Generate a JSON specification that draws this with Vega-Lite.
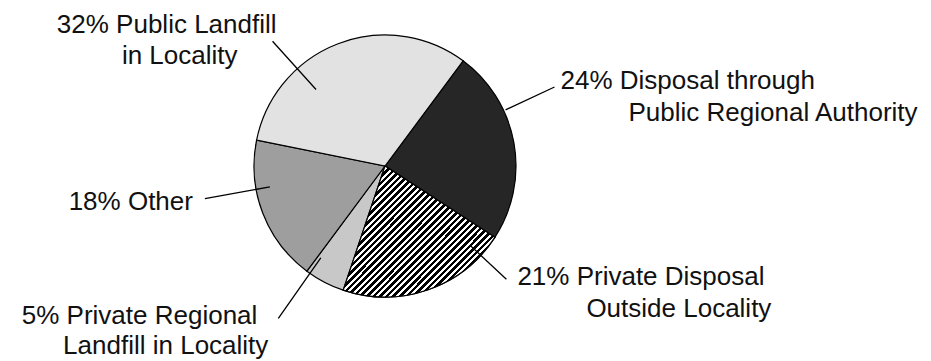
{
  "$schema": "https://vega.github.io/schema/vega-lite/v6.json",
  "width": 770,
  "height": 332,
  "autosize": "none",
  "padding": {"left": 0, "top": 0, "right": 161, "bottom": 29},
  "background": "white",
  "config": {"view": {"stroke": null}},
  "data": {"values": [
    {"cat": "Disposal through Public Regional Authority", "value": 24, "order": 1, "line1": "24% Disposal through", "line2": "Public Regional Authority"},
    {"cat": "Private Disposal Outside Locality", "value": 21, "order": 2, "line1": "21% Private Disposal", "line2": "Outside Locality"},
    {"cat": "Private Regional Landfill in Locality", "value": 5, "order": 3, "line1": "5% Private Regional", "line2": "Landfill in Locality"},
    {"cat": "Other", "value": 18, "order": 4, "line1": "18% Other", "line2": ""},
    {"cat": "Public Landfill in Locality", "value": 32, "order": 5, "line1": "32% Public Landfill", "line2": "in Locality"}
  ]},
  "encoding": {
    "theta": {"field": "value", "type": "quantitative", "stack": true, "scale": {"range": [0.6388, 6.922]}},
    "order": {"field": "order", "type": "quantitative"}
  },
  "layer": [
    {
      "mark": {"type": "arc", "radius": 131, "stroke": "#000", "strokeWidth": 1.2},
      "encoding": {
        "color": {"field": "cat", "type": "nominal", "legend": null,
          "scale": {"domain": ["Disposal through Public Regional Authority", "Private Disposal Outside Locality", "Private Regional Landfill in Locality", "Other", "Public Landfill in Locality"],
                    "range": ["#262626", "#666666", "#c8c8c8", "#9e9e9e", "#e2e2e2"]}}
      }
    },
    {
      "mark": {"type": "arc", "radius": 131, "stroke": "#000", "strokeWidth": 1.2,
        "fill": {"gradient": "linear", "x1": 0, "y1": 0, "x2": 1, "y2": 0.86, "stops": [
          {"offset": 0, "color": "#000"}, {"offset": 0.01375, "color": "#000"}, {"offset": 0.01375, "color": "#fff"}, {"offset": 0.025, "color": "#fff"},
          {"offset": 0.025, "color": "#000"}, {"offset": 0.03875, "color": "#000"}, {"offset": 0.03875, "color": "#fff"}, {"offset": 0.05, "color": "#fff"},
          {"offset": 0.05, "color": "#000"}, {"offset": 0.06375, "color": "#000"}, {"offset": 0.06375, "color": "#fff"}, {"offset": 0.075, "color": "#fff"},
          {"offset": 0.075, "color": "#000"}, {"offset": 0.08875, "color": "#000"}, {"offset": 0.08875, "color": "#fff"}, {"offset": 0.1, "color": "#fff"},
          {"offset": 0.1, "color": "#000"}, {"offset": 0.11375, "color": "#000"}, {"offset": 0.11375, "color": "#fff"}, {"offset": 0.125, "color": "#fff"},
          {"offset": 0.125, "color": "#000"}, {"offset": 0.13875, "color": "#000"}, {"offset": 0.13875, "color": "#fff"}, {"offset": 0.15, "color": "#fff"},
          {"offset": 0.15, "color": "#000"}, {"offset": 0.16375, "color": "#000"}, {"offset": 0.16375, "color": "#fff"}, {"offset": 0.175, "color": "#fff"},
          {"offset": 0.175, "color": "#000"}, {"offset": 0.18875, "color": "#000"}, {"offset": 0.18875, "color": "#fff"}, {"offset": 0.2, "color": "#fff"},
          {"offset": 0.2, "color": "#000"}, {"offset": 0.21375, "color": "#000"}, {"offset": 0.21375, "color": "#fff"}, {"offset": 0.225, "color": "#fff"},
          {"offset": 0.225, "color": "#000"}, {"offset": 0.23875, "color": "#000"}, {"offset": 0.23875, "color": "#fff"}, {"offset": 0.25, "color": "#fff"},
          {"offset": 0.25, "color": "#000"}, {"offset": 0.26375, "color": "#000"}, {"offset": 0.26375, "color": "#fff"}, {"offset": 0.275, "color": "#fff"},
          {"offset": 0.275, "color": "#000"}, {"offset": 0.28875, "color": "#000"}, {"offset": 0.28875, "color": "#fff"}, {"offset": 0.3, "color": "#fff"},
          {"offset": 0.3, "color": "#000"}, {"offset": 0.31375, "color": "#000"}, {"offset": 0.31375, "color": "#fff"}, {"offset": 0.325, "color": "#fff"},
          {"offset": 0.325, "color": "#000"}, {"offset": 0.33875, "color": "#000"}, {"offset": 0.33875, "color": "#fff"}, {"offset": 0.35, "color": "#fff"},
          {"offset": 0.35, "color": "#000"}, {"offset": 0.36375, "color": "#000"}, {"offset": 0.36375, "color": "#fff"}, {"offset": 0.375, "color": "#fff"},
          {"offset": 0.375, "color": "#000"}, {"offset": 0.38875, "color": "#000"}, {"offset": 0.38875, "color": "#fff"}, {"offset": 0.4, "color": "#fff"},
          {"offset": 0.4, "color": "#000"}, {"offset": 0.41375, "color": "#000"}, {"offset": 0.41375, "color": "#fff"}, {"offset": 0.425, "color": "#fff"},
          {"offset": 0.425, "color": "#000"}, {"offset": 0.43875, "color": "#000"}, {"offset": 0.43875, "color": "#fff"}, {"offset": 0.45, "color": "#fff"},
          {"offset": 0.45, "color": "#000"}, {"offset": 0.46375, "color": "#000"}, {"offset": 0.46375, "color": "#fff"}, {"offset": 0.475, "color": "#fff"},
          {"offset": 0.475, "color": "#000"}, {"offset": 0.48875, "color": "#000"}, {"offset": 0.48875, "color": "#fff"}, {"offset": 0.5, "color": "#fff"},
          {"offset": 0.5, "color": "#000"}, {"offset": 0.51375, "color": "#000"}, {"offset": 0.51375, "color": "#fff"}, {"offset": 0.525, "color": "#fff"},
          {"offset": 0.525, "color": "#000"}, {"offset": 0.53875, "color": "#000"}, {"offset": 0.53875, "color": "#fff"}, {"offset": 0.55, "color": "#fff"},
          {"offset": 0.55, "color": "#000"}, {"offset": 0.56375, "color": "#000"}, {"offset": 0.56375, "color": "#fff"}, {"offset": 0.575, "color": "#fff"},
          {"offset": 0.575, "color": "#000"}, {"offset": 0.58875, "color": "#000"}, {"offset": 0.58875, "color": "#fff"}, {"offset": 0.6, "color": "#fff"},
          {"offset": 0.6, "color": "#000"}, {"offset": 0.61375, "color": "#000"}, {"offset": 0.61375, "color": "#fff"}, {"offset": 0.625, "color": "#fff"},
          {"offset": 0.625, "color": "#000"}, {"offset": 0.63875, "color": "#000"}, {"offset": 0.63875, "color": "#fff"}, {"offset": 0.65, "color": "#fff"},
          {"offset": 0.65, "color": "#000"}, {"offset": 0.66375, "color": "#000"}, {"offset": 0.66375, "color": "#fff"}, {"offset": 0.675, "color": "#fff"},
          {"offset": 0.675, "color": "#000"}, {"offset": 0.68875, "color": "#000"}, {"offset": 0.68875, "color": "#fff"}, {"offset": 0.7, "color": "#fff"},
          {"offset": 0.7, "color": "#000"}, {"offset": 0.71375, "color": "#000"}, {"offset": 0.71375, "color": "#fff"}, {"offset": 0.725, "color": "#fff"},
          {"offset": 0.725, "color": "#000"}, {"offset": 0.73875, "color": "#000"}, {"offset": 0.73875, "color": "#fff"}, {"offset": 0.75, "color": "#fff"},
          {"offset": 0.75, "color": "#000"}, {"offset": 0.76375, "color": "#000"}, {"offset": 0.76375, "color": "#fff"}, {"offset": 0.775, "color": "#fff"},
          {"offset": 0.775, "color": "#000"}, {"offset": 0.78875, "color": "#000"}, {"offset": 0.78875, "color": "#fff"}, {"offset": 0.8, "color": "#fff"},
          {"offset": 0.8, "color": "#000"}, {"offset": 0.81375, "color": "#000"}, {"offset": 0.81375, "color": "#fff"}, {"offset": 0.825, "color": "#fff"},
          {"offset": 0.825, "color": "#000"}, {"offset": 0.83875, "color": "#000"}, {"offset": 0.83875, "color": "#fff"}, {"offset": 0.85, "color": "#fff"},
          {"offset": 0.85, "color": "#000"}, {"offset": 0.86375, "color": "#000"}, {"offset": 0.86375, "color": "#fff"}, {"offset": 0.875, "color": "#fff"},
          {"offset": 0.875, "color": "#000"}, {"offset": 0.88875, "color": "#000"}, {"offset": 0.88875, "color": "#fff"}, {"offset": 0.9, "color": "#fff"},
          {"offset": 0.9, "color": "#000"}, {"offset": 0.91375, "color": "#000"}, {"offset": 0.91375, "color": "#fff"}, {"offset": 0.925, "color": "#fff"},
          {"offset": 0.925, "color": "#000"}, {"offset": 0.93875, "color": "#000"}, {"offset": 0.93875, "color": "#fff"}, {"offset": 0.95, "color": "#fff"},
          {"offset": 0.95, "color": "#000"}, {"offset": 0.96375, "color": "#000"}, {"offset": 0.96375, "color": "#fff"}, {"offset": 0.975, "color": "#fff"},
          {"offset": 0.975, "color": "#000"}, {"offset": 0.98875, "color": "#000"}, {"offset": 0.98875, "color": "#fff"}, {"offset": 1, "color": "#fff"}
        ]}},
      "encoding": {
        "fillOpacity": {"condition": {"test": "datum.order === 2", "value": 1}, "value": 0},
        "strokeOpacity": {"condition": {"test": "datum.order === 2", "value": 1}, "value": 0}
      }
    },
    {
      "mark": {"type": "arc", "radius": 187, "radius2": 133, "padAngle": 3.14, "thetaOffset": -0.258, "theta2Offset": -0.258, "filled": false, "stroke": "#000", "strokeWidth": 1.3},
      "encoding": {"strokeOpacity": {"condition": {"test": "datum.order === 1", "value": 1}, "value": 0}}
    },
    {
      "mark": {"type": "arc", "radius": 166, "radius2": 117, "padAngle": 3.14, "thetaOffset": -0.485, "theta2Offset": -0.485, "filled": false, "stroke": "#000", "strokeWidth": 1.3},
      "encoding": {"strokeOpacity": {"condition": {"test": "datum.order === 2", "value": 1}, "value": 0}}
    },
    {
      "mark": {"type": "arc", "radius": 186, "radius2": 112, "padAngle": 3.14, "thetaOffset": 0.129, "theta2Offset": 0.129, "filled": false, "stroke": "#000", "strokeWidth": 1.3},
      "encoding": {"strokeOpacity": {"condition": {"test": "datum.order === 3", "value": 1}, "value": 0}}
    },
    {
      "mark": {"type": "arc", "radius": 183, "radius2": 117, "padAngle": 3.14, "thetaOffset": 0.187, "theta2Offset": 0.187, "filled": false, "stroke": "#000", "strokeWidth": 1.3},
      "encoding": {"strokeOpacity": {"condition": {"test": "datum.order === 4", "value": 1}, "value": 0}}
    },
    {
      "mark": {"type": "arc", "radius": 168, "radius2": 103, "padAngle": 3.14, "thetaOffset": -0.367, "theta2Offset": -0.367, "filled": false, "stroke": "#000", "strokeWidth": 1.3},
      "encoding": {"strokeOpacity": {"condition": {"test": "datum.order === 5", "value": 1}, "value": 0}}
    },
    {
      "mark": {"type": "text", "radius": 187, "thetaOffset": -0.258, "align": "left", "baseline": "alphabetic", "dx": 6, "dy": 2, "font": "Liberation Sans", "fontSize": 26, "fill": "#111"},
      "encoding": {"text": {"condition": {"test": "datum.order === 1", "field": "line1", "type": "nominal"}, "value": ""}}
    },
    {
      "mark": {"type": "text", "radius": 187, "thetaOffset": -0.258, "align": "left", "baseline": "alphabetic", "dx": 74, "dy": 34, "font": "Liberation Sans", "fontSize": 26, "fill": "#111"},
      "encoding": {"text": {"condition": {"test": "datum.order === 1", "field": "line2", "type": "nominal"}, "value": ""}}
    },
    {
      "mark": {"type": "text", "radius": 166, "thetaOffset": -0.485, "align": "left", "baseline": "alphabetic", "dx": 11, "dy": 6, "font": "Liberation Sans", "fontSize": 26, "fill": "#111"},
      "encoding": {"text": {"condition": {"test": "datum.order === 2", "field": "line1", "type": "nominal"}, "value": ""}}
    },
    {
      "mark": {"type": "text", "radius": 166, "thetaOffset": -0.485, "align": "left", "baseline": "alphabetic", "dx": 80, "dy": 38, "font": "Liberation Sans", "fontSize": 26, "fill": "#111"},
      "encoding": {"text": {"condition": {"test": "datum.order === 2", "field": "line2", "type": "nominal"}, "value": ""}}
    },
    {
      "mark": {"type": "text", "radius": 186, "thetaOffset": 0.129, "align": "right", "baseline": "alphabetic", "dx": -21, "dy": 6, "font": "Liberation Sans", "fontSize": 26, "fill": "#111"},
      "encoding": {"text": {"condition": {"test": "datum.order === 3", "field": "line1", "type": "nominal"}, "value": ""}}
    },
    {
      "mark": {"type": "text", "radius": 186, "thetaOffset": 0.129, "align": "right", "baseline": "alphabetic", "dx": -10, "dy": 36, "font": "Liberation Sans", "fontSize": 26, "fill": "#111"},
      "encoding": {"text": {"condition": {"test": "datum.order === 3", "field": "line2", "type": "nominal"}, "value": ""}}
    },
    {
      "mark": {"type": "text", "radius": 183, "thetaOffset": 0.187, "align": "right", "baseline": "alphabetic", "dx": -12, "dy": 11, "font": "Liberation Sans", "fontSize": 26, "fill": "#111"},
      "encoding": {"text": {"condition": {"test": "datum.order === 4", "field": "line1", "type": "nominal"}, "value": ""}}
    },
    {
      "mark": {"type": "text", "radius": 168, "thetaOffset": -0.367, "align": "right", "baseline": "alphabetic", "dx": 4, "dy": -8, "font": "Liberation Sans", "fontSize": 26, "fill": "#111"},
      "encoding": {"text": {"condition": {"test": "datum.order === 5", "field": "line1", "type": "nominal"}, "value": ""}}
    },
    {
      "mark": {"type": "text", "radius": 168, "thetaOffset": -0.367, "align": "right", "baseline": "alphabetic", "dx": -35, "dy": 23, "font": "Liberation Sans", "fontSize": 26, "fill": "#111"},
      "encoding": {"text": {"condition": {"test": "datum.order === 5", "field": "line2", "type": "nominal"}, "value": ""}}
    }
  ]
}
